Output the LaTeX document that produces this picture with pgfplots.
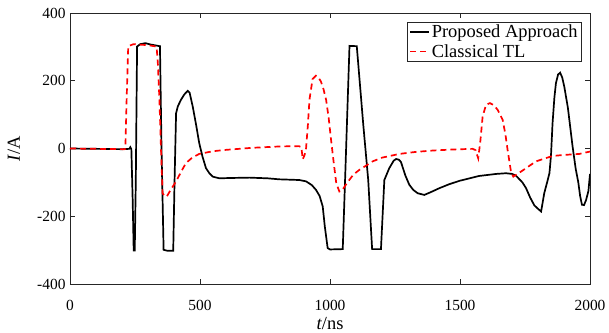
\documentclass[border=0pt]{standalone}
\usepackage{fontspec}
\setmainfont{Liberation Serif}
\usepackage{pgfplots}
\pgfplotsset{compat=1.18}

% Current waveforms: proposed approach vs. classical transmission-line model
\pgfplotstableread{
t I
0 0
100 -1
200 -2
228 -1
232 4
236 -2
241 -150
245 -301
249 -301
253 -100
258 301
270 308
290 311
310 307
346 302
352 0
360 -299
375 -302
397 -302
402 -100
408 104
415 125
427 144
440 160
453 170
460 165
472 124
485 70
497 16
510 -25
523 -58
536 -73
549 -83
574 -88
620 -87
690 -86
760 -88
805 -91
882 -93
908 -97
930 -108
946 -122
960 -140
972 -171
980 -230
991 -294
1000 -298
1049 -297
1058 -93
1075 303
1103 302
1128 70
1147 -93
1162 -297
1196 -297
1209 -93
1228 -58
1245 -36
1254 -31
1265 -33
1273 -40
1290 -80
1305 -107
1320 -122
1337 -132
1363 -137
1390 -128
1421 -117
1460 -105
1500 -95
1574 -81
1640 -75
1677 -73
1700 -75
1715 -80
1740 -100
1754 -117
1770 -145
1786 -168
1800 -178
1812 -186
1824 -132
1835 -100
1844 -73
1850 -20
1856 75
1863 150
1869 193
1877 218
1885 224
1893 210
1901 183
1915 120
1933 6
1945 -60
1955 -100
1962 -140
1969 -166
1977 -167
1985 -152
1994 -125
2000 -75
}\proposed

\pgfplotstableread{
t I
0 0
100 -1
209 -2
213 -1
218 150
224 302
244 308
300 305
333 301
338 250
344 144
350 0
356 -132
364 -140
372 -142
385 -125
408 -97
430 -65
446 -43
470 -27
497 -16
550 -8
600 -4
700 2
805 6
880 7
890 4
895 -32
902 -20
908 1
915 70
921 144
933 205
946 215
955 210
965 198
975 175
985 144
995 90
1004 26
1014 -40
1024 -102
1036 -127
1045 -125
1060 -108
1074 -93
1090 -77
1113 -63
1140 -50
1164 -38
1200 -27
1267 -16
1330 -10
1395 -6
1470 -3
1549 -1
1560 -5
1570 -29
1578 20
1587 94
1600 129
1615 134
1630 128
1645 114
1664 85
1675 40
1683 -4
1696 -68
1705 -83
1715 -78
1735 -68
1754 -58
1792 -38
1856 -22
1900 -19
1959 -16
2000 -9
}\classical

\begin{document}
\begin{tikzpicture}
\begin{axis}[
  at={(0,0)}, anchor=south west,
  scale only axis, width=520bp, height=271bp,
  xmin=0, xmax=2000, ymin=-400, ymax=400,
  xtick={0,500,1000,1500,2000},
  ytick={-400,-200,0,200,400},
  tick align=inside, major tick length=5bp,
  axis line style={black!85, line width=0.6bp},
  every tick/.style={black!85, line width=0.6bp},
  /pgf/number format/assume math mode=true,
  /pgf/number format/1000 sep={},
  tick label style={font=\fontsize{15.5}{18}\selectfont},
  xticklabel style={yshift=-13bp},
  yticklabel style={xshift=-1bp},
  label style={font=\fontsize{18.5}{22}\selectfont},
  xlabel={\textit{t}/ns},
  ylabel={\textit{I}/A},
  xlabel style={at={(axis description cs:0.5,0)}, anchor=center, yshift=-40bp},
  ylabel style={at={(axis description cs:-0.108,0.5)}, anchor=center},
  legend style={at={(1,1)}, anchor=north east, xshift=-8bp, yshift=-8.7bp,
    draw=black!85, line width=0.6bp, inner xsep=2.5bp, inner ysep=2.5bp,
    font=\fontsize{18.5}{20}\selectfont, row sep=4bp,
    nodes={inner xsep=1.5bp, inner ysep=0.5bp}},
  legend cell align=left,
  legend image code/.code={\draw[#1] (0bp,0bp) -- (19bp,0bp);},
]
\addplot[black, line width=1.7bp] table[x=t, y=I] {\proposed};
\addlegendentry{Proposed Approach}
\addplot[red, line width=1.7bp, dash pattern=on 6bp off 4bp] table[x=t, y=I] {\classical};
\addlegendentry{Classical TL}
\end{axis}
\pgfresetboundingbox
\path[use as bounding box] (-70bp,-49bp) rectangle (539bp,284bp);
\end{tikzpicture}
\end{document}
